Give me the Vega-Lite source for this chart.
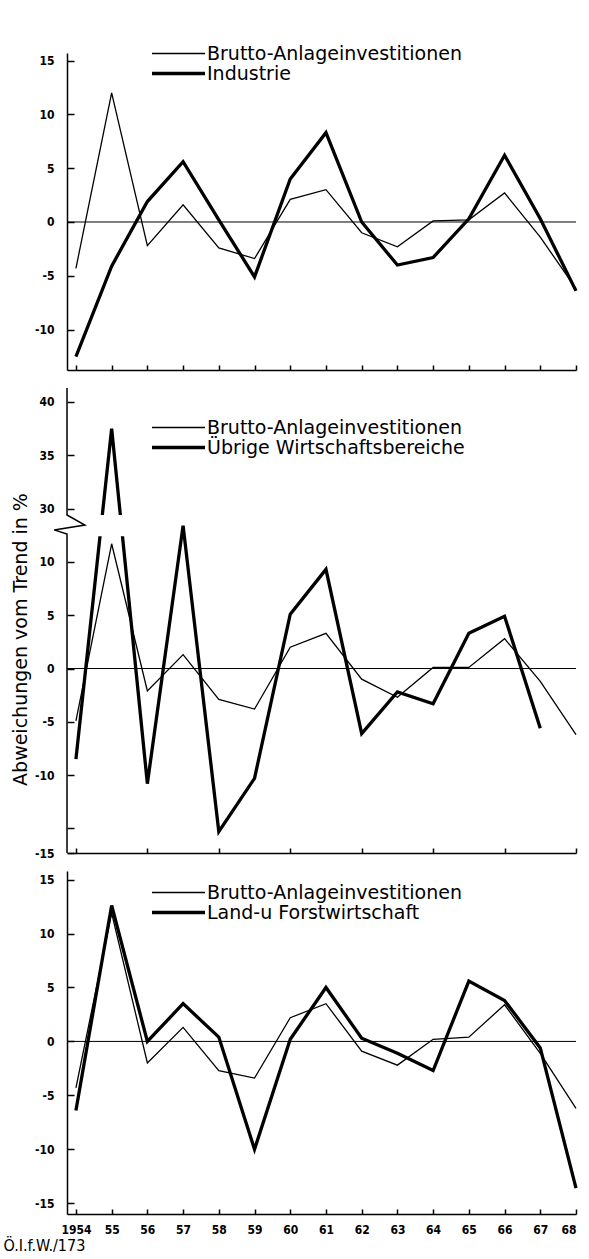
{
  "$schema": "https://vega.github.io/schema/vega-lite/v6.json",
  "padding": {"left": 3, "top": 44, "right": 0, "bottom": 0},
  "config": {
    "view": {"stroke": null},
    "font": "DejaVu Sans",
    "axis": {"domainColor": "black", "domainWidth": 1.5, "tickColor": "black", "tickWidth": 1.5, "grid": false, "labelColor": "black", "labelFont": "DejaVu Sans Condensed", "labelFontWeight": "bold", "labelFontSize": 12},
    "axisY": {"tickSize": -7, "labelPadding": 20},
    "axisX": {"tickSize": -5, "labelPadding": 15},
    "legend": {"orient": "none", "symbolType": "stroke", "symbolSize": 2809, "symbolStrokeColor": "black", "labelFont": "DejaVu Sans", "labelFontSize": 19, "labelColor": "black", "labelOffset": 0, "labelLimit": 400, "clipHeight": 19, "rowPadding": 0, "padding": 0}
  },
  "data": {"values": [
    {"panel": 1, "series": "Brutto-Anlageinvestitionen", "year": 1954, "value": -4.3},
    {"panel": 1, "series": "Brutto-Anlageinvestitionen", "year": 1955, "value": 12.0},
    {"panel": 1, "series": "Brutto-Anlageinvestitionen", "year": 1956, "value": -2.2},
    {"panel": 1, "series": "Brutto-Anlageinvestitionen", "year": 1957, "value": 1.6},
    {"panel": 1, "series": "Brutto-Anlageinvestitionen", "year": 1958, "value": -2.4},
    {"panel": 1, "series": "Brutto-Anlageinvestitionen", "year": 1959, "value": -3.4},
    {"panel": 1, "series": "Brutto-Anlageinvestitionen", "year": 1960, "value": 2.1},
    {"panel": 1, "series": "Brutto-Anlageinvestitionen", "year": 1961, "value": 3.0},
    {"panel": 1, "series": "Brutto-Anlageinvestitionen", "year": 1962, "value": -1.0},
    {"panel": 1, "series": "Brutto-Anlageinvestitionen", "year": 1963, "value": -2.3},
    {"panel": 1, "series": "Brutto-Anlageinvestitionen", "year": 1964, "value": 0.1},
    {"panel": 1, "series": "Brutto-Anlageinvestitionen", "year": 1965, "value": 0.2},
    {"panel": 1, "series": "Brutto-Anlageinvestitionen", "year": 1966, "value": 2.7},
    {"panel": 1, "series": "Brutto-Anlageinvestitionen", "year": 1967, "value": -1.4},
    {"panel": 1, "series": "Brutto-Anlageinvestitionen", "year": 1968, "value": -6.2},
    {"panel": 1, "series": "Industrie", "year": 1954, "value": -12.5},
    {"panel": 1, "series": "Industrie", "year": 1955, "value": -4.1},
    {"panel": 1, "series": "Industrie", "year": 1956, "value": 1.9},
    {"panel": 1, "series": "Industrie", "year": 1957, "value": 5.6},
    {"panel": 1, "series": "Industrie", "year": 1958, "value": 0.2},
    {"panel": 1, "series": "Industrie", "year": 1959, "value": -5.1},
    {"panel": 1, "series": "Industrie", "year": 1960, "value": 4.0},
    {"panel": 1, "series": "Industrie", "year": 1961, "value": 8.3},
    {"panel": 1, "series": "Industrie", "year": 1962, "value": 0.0},
    {"panel": 1, "series": "Industrie", "year": 1963, "value": -4.0},
    {"panel": 1, "series": "Industrie", "year": 1964, "value": -3.3},
    {"panel": 1, "series": "Industrie", "year": 1965, "value": 0.3},
    {"panel": 1, "series": "Industrie", "year": 1966, "value": 6.2},
    {"panel": 1, "series": "Industrie", "year": 1967, "value": 0.3},
    {"panel": 1, "series": "Industrie", "year": 1968, "value": -6.4},
    {"panel": 2, "series": "Brutto-Anlageinvestitionen", "year": 1954, "value": -4.9},
    {"panel": 2, "series": "Brutto-Anlageinvestitionen", "year": 1955, "value": 11.7},
    {"panel": 2, "series": "Brutto-Anlageinvestitionen", "year": 1956, "value": -2.1},
    {"panel": 2, "series": "Brutto-Anlageinvestitionen", "year": 1957, "value": 1.3},
    {"panel": 2, "series": "Brutto-Anlageinvestitionen", "year": 1958, "value": -2.9},
    {"panel": 2, "series": "Brutto-Anlageinvestitionen", "year": 1959, "value": -3.8},
    {"panel": 2, "series": "Brutto-Anlageinvestitionen", "year": 1960, "value": 2.0},
    {"panel": 2, "series": "Brutto-Anlageinvestitionen", "year": 1961, "value": 3.3},
    {"panel": 2, "series": "Brutto-Anlageinvestitionen", "year": 1962, "value": -1.0},
    {"panel": 2, "series": "Brutto-Anlageinvestitionen", "year": 1963, "value": -2.7},
    {"panel": 2, "series": "Brutto-Anlageinvestitionen", "year": 1964, "value": 0.1},
    {"panel": 2, "series": "Brutto-Anlageinvestitionen", "year": 1965, "value": 0.1},
    {"panel": 2, "series": "Brutto-Anlageinvestitionen", "year": 1966, "value": 2.8},
    {"panel": 2, "series": "Brutto-Anlageinvestitionen", "year": 1967, "value": -1.2},
    {"panel": 2, "series": "Brutto-Anlageinvestitionen", "year": 1968, "value": -6.2},
    {"panel": 2, "series": "Übrige Wirtschaftsbereiche", "year": 1954, "value": -8.5},
    {"panel": 2, "series": "Übrige Wirtschaftsbereiche", "year": 1955, "value": 37.5},
    {"panel": 2, "series": "Übrige Wirtschaftsbereiche", "year": 1956, "value": -10.8},
    {"panel": 2, "series": "Übrige Wirtschaftsbereiche", "year": 1957, "value": 13.4},
    {"panel": 2, "series": "Übrige Wirtschaftsbereiche", "year": 1958, "value": -15.3},
    {"panel": 2, "series": "Übrige Wirtschaftsbereiche", "year": 1959, "value": -10.3},
    {"panel": 2, "series": "Übrige Wirtschaftsbereiche", "year": 1960, "value": 5.1},
    {"panel": 2, "series": "Übrige Wirtschaftsbereiche", "year": 1961, "value": 9.3},
    {"panel": 2, "series": "Übrige Wirtschaftsbereiche", "year": 1962, "value": -6.1},
    {"panel": 2, "series": "Übrige Wirtschaftsbereiche", "year": 1963, "value": -2.2},
    {"panel": 2, "series": "Übrige Wirtschaftsbereiche", "year": 1964, "value": -3.3},
    {"panel": 2, "series": "Übrige Wirtschaftsbereiche", "year": 1965, "value": 3.3},
    {"panel": 2, "series": "Übrige Wirtschaftsbereiche", "year": 1966, "value": 4.9},
    {"panel": 2, "series": "Übrige Wirtschaftsbereiche", "year": 1967, "value": -5.6},
    {"panel": 3, "series": "Brutto-Anlageinvestitionen", "year": 1954, "value": -4.3},
    {"panel": 3, "series": "Brutto-Anlageinvestitionen", "year": 1955, "value": 11.9},
    {"panel": 3, "series": "Brutto-Anlageinvestitionen", "year": 1956, "value": -2.0},
    {"panel": 3, "series": "Brutto-Anlageinvestitionen", "year": 1957, "value": 1.3},
    {"panel": 3, "series": "Brutto-Anlageinvestitionen", "year": 1958, "value": -2.7},
    {"panel": 3, "series": "Brutto-Anlageinvestitionen", "year": 1959, "value": -3.4},
    {"panel": 3, "series": "Brutto-Anlageinvestitionen", "year": 1960, "value": 2.2},
    {"panel": 3, "series": "Brutto-Anlageinvestitionen", "year": 1961, "value": 3.5},
    {"panel": 3, "series": "Brutto-Anlageinvestitionen", "year": 1962, "value": -0.9},
    {"panel": 3, "series": "Brutto-Anlageinvestitionen", "year": 1963, "value": -2.2},
    {"panel": 3, "series": "Brutto-Anlageinvestitionen", "year": 1964, "value": 0.2},
    {"panel": 3, "series": "Brutto-Anlageinvestitionen", "year": 1965, "value": 0.4},
    {"panel": 3, "series": "Brutto-Anlageinvestitionen", "year": 1966, "value": 3.4},
    {"panel": 3, "series": "Brutto-Anlageinvestitionen", "year": 1967, "value": -1.1},
    {"panel": 3, "series": "Brutto-Anlageinvestitionen", "year": 1968, "value": -6.2},
    {"panel": 3, "series": "Land-u Forstwirtschaft", "year": 1954, "value": -6.4},
    {"panel": 3, "series": "Land-u Forstwirtschaft", "year": 1955, "value": 12.6},
    {"panel": 3, "series": "Land-u Forstwirtschaft", "year": 1956, "value": 0.0},
    {"panel": 3, "series": "Land-u Forstwirtschaft", "year": 1957, "value": 3.5},
    {"panel": 3, "series": "Land-u Forstwirtschaft", "year": 1958, "value": 0.4},
    {"panel": 3, "series": "Land-u Forstwirtschaft", "year": 1959, "value": -10.0},
    {"panel": 3, "series": "Land-u Forstwirtschaft", "year": 1960, "value": 0.2},
    {"panel": 3, "series": "Land-u Forstwirtschaft", "year": 1961, "value": 5.0},
    {"panel": 3, "series": "Land-u Forstwirtschaft", "year": 1962, "value": 0.3},
    {"panel": 3, "series": "Land-u Forstwirtschaft", "year": 1963, "value": -1.1},
    {"panel": 3, "series": "Land-u Forstwirtschaft", "year": 1964, "value": -2.7},
    {"panel": 3, "series": "Land-u Forstwirtschaft", "year": 1965, "value": 5.6},
    {"panel": 3, "series": "Land-u Forstwirtschaft", "year": 1966, "value": 3.8},
    {"panel": 3, "series": "Land-u Forstwirtschaft", "year": 1967, "value": -0.6},
    {"panel": 3, "series": "Land-u Forstwirtschaft", "year": 1968, "value": -13.6}
  ]},
  "spacing": 18,
  "bounds": "flush",
  "resolve": {"scale": {"y": "independent", "strokeWidth": "independent"}, "legend": {"strokeWidth": "independent"}},
  "title": {"text": "Ö.I.f.W./173", "orient": "bottom", "anchor": "start", "font": "DejaVu Sans Condensed", "fontSize": 16, "fontWeight": "normal", "color": "black", "offset": 3, "dx": -8},
  "vconcat": [
    {
      "width": 509, "height": 317,
      "layer": [
        {"data": {"values": [{}]}, "mark": {"type": "rule", "color": "black", "strokeWidth": 1}, "encoding": {"y": {"datum": 0}}},
        {
          "transform": [{"filter": "datum.panel == 1"}],
          "mark": {"type": "line", "color": "black", "strokeJoin": "miter"},
          "encoding": {
            "x": {"field": "year", "type": "quantitative", "scale": {"domain": [1953.75, 1968], "nice": false, "zero": false}, "axis": {"values": [1954,1955,1956,1957,1958,1959,1960,1961,1962,1963,1964,1965,1966,1967,1968], "labels": false, "title": null}},
            "y": {"field": "value", "type": "quantitative", "scale": {"domain": [-13.75, 15.7], "nice": false, "zero": false}, "axis": {"values": [15,10,5,0,-5,-10], "labelExpr": "replace(datum.label, '−', '-')", "title": null}},
            "strokeWidth": {"field": "series", "type": "ordinal", "scale": {"domain": ["Brutto-Anlageinvestitionen", "Industrie"], "range": [1.3, 3.3]}, "legend": {"title": null, "legendX": 83, "legendY": -9}}
          }
        }
      ]
    },
    {
      "width": 509, "height": 465,
      "layer": [
        {"data": {"values": [{}]}, "mark": {"type": "rule", "color": "black", "strokeWidth": 1}, "encoding": {"y": {"datum": 0}}},
        {
          "transform": [{"filter": "datum.panel == 2"}],
          "mark": {"type": "line", "color": "black", "strokeJoin": "miter"},
          "encoding": {
            "x": {"field": "year", "type": "quantitative", "scale": {"domain": [1953.75, 1968], "nice": false, "zero": false}, "axis": {"values": [1954,1955,1956,1957,1958,1959,1960,1961,1962,1963,1964,1965,1966,1967,1968], "labels": false, "title": null}},
            "y": {"field": "value", "type": "quantitative", "scale": {"domain": [-17.3, 13.6, 29.4, 41.3], "range": [465, 135.5, 127, 0], "nice": false, "zero": false}, "axis": {"values": [40,35,30,10,5,0,-5,-10,-15,-17.3], "domain": false, "labelExpr": "datum.value == -15 ? '' : (datum.value < -17 ? '-15' : replace(datum.label, '−', '-'))", "title": "Abweichungen vom Trend in %", "titleFont": "DejaVu Sans", "titleFontSize": 19, "titleFontWeight": "normal", "titleColor": "black", "titlePadding": 4, "titleY": 251}},
            "strokeWidth": {"field": "series", "type": "ordinal", "scale": {"domain": ["Brutto-Anlageinvestitionen", "Übrige Wirtschaftsbereiche"], "range": [1.3, 3.3]}, "legend": {"title": null, "legendX": 83, "legendY": 30}}
          }
        },
        {
          "data": {"values": [{"year": 1954.5, "year2": 1955.5, "value": 12.4, "value2": 29.4}]},
          "mark": {"type": "rect", "color": "white"},
          "encoding": {"x": {"field": "year", "type": "quantitative"}, "x2": {"field": "year2"}, "y": {"field": "value", "type": "quantitative"}, "y2": {"field": "value2"}}
        },
        {
          "data": {"values": [
            {"i": 1, "year": 1953.75, "value": 41.3},
            {"i": 2, "year": 1953.75, "value": 29.4},
            {"i": 3, "year": 1954.25, "value": 13.46},
            {"i": 4, "year": 1953.39, "value": 13.0},
            {"i": 5, "year": 1953.75, "value": 12.6},
            {"i": 6, "year": 1953.75, "value": -17.3}
          ]},
          "mark": {"type": "line", "color": "black", "strokeWidth": 1.5, "strokeJoin": "miter"},
          "encoding": {"x": {"field": "year", "type": "quantitative"}, "y": {"field": "value", "type": "quantitative"}, "order": {"field": "i"}}
        }
      ]
    },
    {
      "width": 509, "height": 343,
      "layer": [
        {"data": {"values": [{}]}, "mark": {"type": "rule", "color": "black", "strokeWidth": 1}, "encoding": {"y": {"datum": 0}}},
        {
          "transform": [{"filter": "datum.panel == 3"}],
          "mark": {"type": "line", "color": "black", "strokeJoin": "miter"},
          "encoding": {
            "x": {"field": "year", "type": "quantitative", "scale": {"domain": [1953.75, 1968], "nice": false, "zero": false}, "axis": {"values": [1954,1955,1956,1957,1958,1959,1960,1961,1962,1963,1964,1965,1966,1967,1968], "labelExpr": "datum.value == 1954 ? '1954' : substring(toString(datum.value), 2)", "title": null}},
            "y": {"field": "value", "type": "quantitative", "scale": {"domain": [-16, 15.8], "nice": false, "zero": false}, "axis": {"values": [15,10,5,0,-5,-10,-15], "labelExpr": "replace(datum.label, '−', '-')", "title": null}},
            "strokeWidth": {"field": "series", "type": "ordinal", "scale": {"domain": ["Brutto-Anlageinvestitionen", "Land-u Forstwirtschaft"], "range": [1.3, 3.3]}, "legend": {"title": null, "legendX": 83, "legendY": 12}}
          }
        }
      ]
    }
  ]
}
